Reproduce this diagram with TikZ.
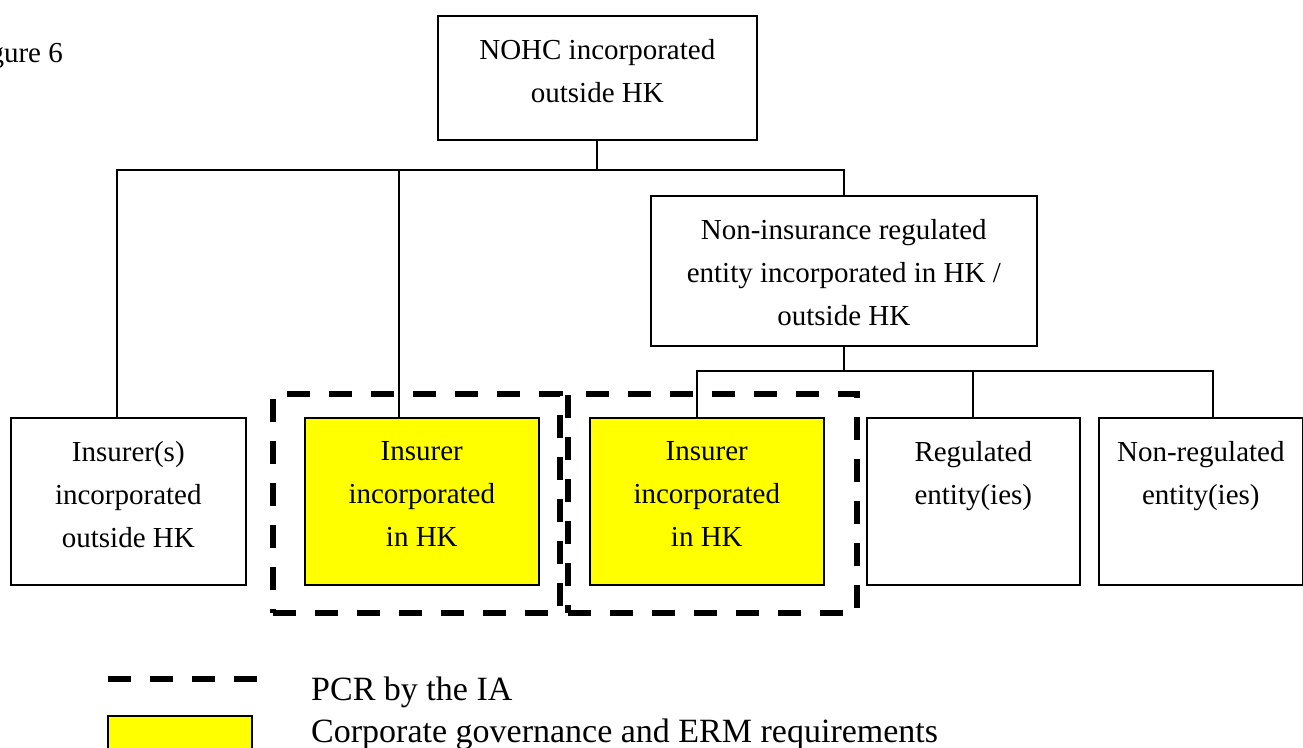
\documentclass[tikz,border=0pt]{standalone}
\usepackage{fontspec}
\setmainfont{Liberation Serif}
\definecolor{hlyellow}{RGB}{255,255,0}
\begin{document}
\begin{tikzpicture}[x=1pt,y=-1pt,
  box/.style={draw=black, line width=1.6pt, rectangle, inner sep=0pt, anchor=north west},
  yellowbox/.style={box, fill=hlyellow},
  boxtext/.style={anchor=north, inner sep=0pt, align=center, font=\fontsize{29}{43}\selectfont},
  conn/.style={draw=black, line width=1.8pt},
  pcr/.style={draw=black, line width=6pt, dash pattern=on 23pt off 19pt},
  pcrframe/.style={pcr, rectangle, inner sep=0pt, anchor=north west},
  legtext/.style={anchor=base west, inner sep=0pt, font=\fontsize{34}{40}\selectfont}
]
\useasboundingbox (0,0) rectangle (1303,747);

% figure caption (cut at the left edge)
\node[anchor=base east, inner sep=0pt, font=\fontsize{29}{34}\selectfont] (fig) at (63,62) {gure 6};

% boxes
\node[box, minimum width=319pt, minimum height=124pt] (nohc) at (437,15) {};
\node[box, minimum width=386pt, minimum height=150pt] (nonins) at (650,195) {};
\node[box, minimum width=235pt, minimum height=167pt] (outs) at (10,417) {};
\node[yellowbox, minimum width=234pt, minimum height=167pt] (yel1) at (304,417) {};
\node[yellowbox, minimum width=234pt, minimum height=167pt] (yel2) at (589,417) {};
\node[box, minimum width=213pt, minimum height=167pt] (reg) at (866,417) {};
\node[box, minimum width=204pt, minimum height=167pt] (nonreg) at (1098,417) {};

% box texts
\node[boxtext] (tnohc) at ([yshift=-24pt]nohc.north) {NOHC incorporated\\outside HK};
\node[boxtext] (tnonins) at ([yshift=-24pt]nonins.north) {Non-insurance regulated\\entity incorporated in HK /\\outside HK};
\node[boxtext] (touts) at ([yshift=-24pt]outs.north) {Insurer(s)\\incorporated\\outside HK};
\node[boxtext] (tyel1) at ([yshift=-24pt]yel1.north) {Insurer\\incorporated\\in HK};
\node[boxtext] (tyel2) at ([yshift=-24pt]yel2.north) {Insurer\\incorporated\\in HK};
\node[boxtext] (treg) at ([yshift=-24pt]reg.north) {Regulated\\entity(ies)};
\node[boxtext] (tnonreg) at ([yshift=-24pt]nonreg.north) {Non-regulated\\entity(ies)};

% connectors
\coordinate (busL) at (117,170);
\coordinate (busM) at (399,170);
\coordinate (busR) at (nonins.north |- busL);
\coordinate (bus2L) at (697,371);
\coordinate (bus2R) at (1213,371);
\draw[conn] (nohc.south) -- (nohc.south |- busL);
\draw[conn] (outs.north -| busL) -- (busL) -- (busR) -- (nonins.north);
\draw[conn] (busM) -- (yel1.north -| busM);
\draw[conn] (nonins.south) -- (nonins.south |- bus2L);
\draw[conn] (yel2.north -| bus2L) -- (bus2L) -- (bus2R) -- (nonreg.north -| bus2R);
\draw[conn] (reg.north) -- (reg.north |- bus2L);

% PCR frames
\node[pcrframe, minimum width=287pt, minimum height=219pt] (pcr1) at (270,391) {};
\node[pcrframe, minimum width=289pt, minimum height=219pt] (pcr2) at (565,391) {};

% legend
\coordinate (legA) at (108,679);
\coordinate (legB) at (258,679);
\draw[pcr] (legA) -- (legB);
\node[yellowbox, minimum width=144pt, minimum height=50pt] (legy) at (107,715) {};
\node[legtext] (leg1) at (311,700) {PCR by the IA};
\node[legtext] (leg2) at (311,742) {Corporate governance and ERM requirements};
\end{tikzpicture}
\end{document}
